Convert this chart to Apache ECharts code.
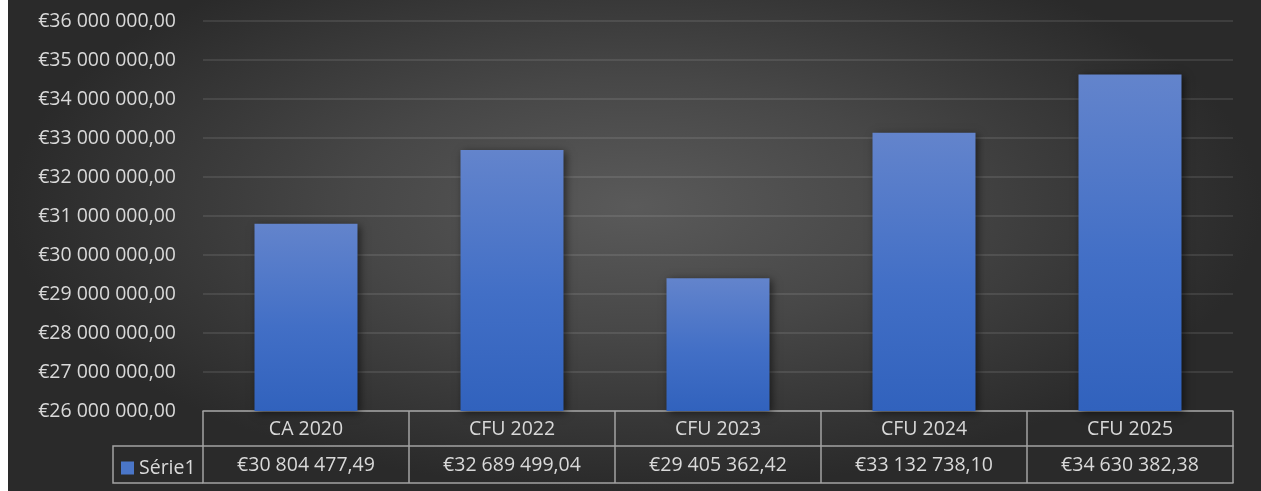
<!DOCTYPE html>
<html>
<head>
<meta charset="utf-8">
<script src="https://cdn.jsdelivr.net/npm/echarts@6/dist/echarts.min.js"></script>
<style>
  html, body { margin: 0; padding: 0; background: #ffffff; }
  #chart {
    position: absolute; left: 8px; top: 0; width: 1253px; height: 491px;
    background: radial-gradient(ellipse farthest-side at 50% 42%, #5a5a5a 0%, #474747 45%, #2a2a2a 100%);
  }
</style>
</head>
<body>
<div id="chart"></div>
<script>
const categories = ['CA 2020', 'CFU 2022', 'CFU 2023', 'CFU 2024', 'CFU 2025'];
const values = [30804477.49, 32689499.04, 29405362.42, 33132738.10, 34630382.38];
const seriesName = 'Série1';
const yMin = 26000000, yMax = 36000000, yStep = 1000000;

function groupInt(s) { return s.replace(/\B(?=(\d{3})+(?!\d))/g, ' '); }
function euro(v) {
  const parts = Number(v).toFixed(2).split('.');
  return '€' + groupInt(parts[0]) + ',' + parts[1];
}
const valueLabels = values.map(euro);

const txt = '#d9d9d9';
const tableLine = '#a3a3a3';
const font = '"Open Sans", "Noto Sans", sans-serif';
const fs = 19.5;

const chart = echarts.init(document.getElementById('chart'), null, { renderer: 'canvas' });
chart.setOption({
  backgroundColor: 'transparent',
  animation: false,
  textStyle: { fontFamily: font },
  grid: { left: 195, right: 28, top: 21, bottom: 80 },
  legend: {
    data: [seriesName], left: 113, top: 458, padding: 0,
    icon: 'rect', itemWidth: 13, itemHeight: 13, itemGap: 5,
    itemStyle: { color: '#4a76c8' },
    textStyle: { color: txt, fontSize: fs, fontFamily: font, padding: [0, 0, 0, 0] }
  },
  xAxis: [
    {
      type: 'category', data: categories, position: 'bottom',
      axisLine: { show: true, lineStyle: { color: tableLine, width: 1.5 } },
      axisTick: { show: true, length: 72, lineStyle: { color: tableLine, width: 1.5 } },
      axisLabel: { color: txt, fontSize: fs, fontFamily: font, margin: 18, verticalAlign: 'middle' },
      splitLine: { show: false }
    },
    {
      type: 'category', data: valueLabels, position: 'bottom', offset: 35,
      axisLine: { show: true, lineStyle: { color: tableLine, width: 1.5 } },
      axisTick: { show: false },
      axisLabel: { color: txt, fontSize: fs, fontFamily: font, margin: 19, verticalAlign: 'middle' },
      splitLine: { show: false }
    },
    {
      type: 'category', data: categories, position: 'bottom', offset: 72,
      axisLine: { show: true, lineStyle: { color: tableLine, width: 1.5 } },
      axisTick: { show: false },
      axisLabel: { show: false },
      splitLine: { show: false }
    }
  ],
  yAxis: {
    type: 'value', min: yMin, max: yMax, interval: yStep,
    axisLine: { show: false }, axisTick: { show: false },
    axisLabel: { color: txt, fontSize: fs, fontFamily: font, margin: 27, formatter: v => euro(v) },
    splitLine: { lineStyle: { color: 'rgba(255,255,255,0.13)', width: 1.5 } }
  },
  graphic: [
    {
      type: 'polyline', silent: true,
      shape: { points: [[195, 446], [105, 446], [105, 483], [195, 483]] },
      style: { stroke: tableLine, lineWidth: 1.5, fill: null }
    }
  ],
  series: [{
    name: seriesName, type: 'bar', data: values, xAxisIndex: 0, yAxisIndex: 0,
    barWidth: '50%',
    itemStyle: {
      color: new echarts.graphic.LinearGradient(0, 0, 0, 1, [
        { offset: 0, color: '#6384cc' },
        { offset: 0.55, color: '#426fc6' },
        { offset: 1, color: '#3162bd' }
      ]),
      shadowBlur: 8, shadowColor: 'rgba(0,0,0,0.55)', shadowOffsetX: 2, shadowOffsetY: 2
    }
  }]
});
</script>
</body>
</html>
